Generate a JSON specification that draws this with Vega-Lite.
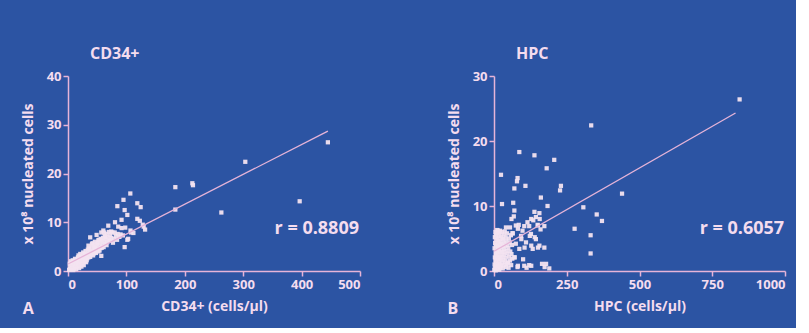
{
  "$schema": "https://vega.github.io/schema/vega-lite/v6.json",
  "background": "#2c54a3",
  "padding": {"left": 21, "top": 46, "right": 10, "bottom": 10},
  "spacing": 134,
  "bounds": "flush",
  "datasets": {
    "cd34": [
      {"x":2,"y":0.2},{"x":3,"y":0.5},{"x":4,"y":0.3},{"x":5,"y":0.8},{"x":6,"y":0.4},{"x":7,"y":1.2},{"x":8,"y":0.6},{"x":9,"y":1.0},{"x":10,"y":1.5},{"x":10,"y":0.5},
      {"x":11,"y":2.0},{"x":12,"y":1.1},{"x":13,"y":0.7},{"x":14,"y":1.8},{"x":15,"y":2.4},{"x":15,"y":1.2},{"x":16,"y":0.9},{"x":17,"y":2.8},{"x":18,"y":1.6},{"x":18,"y":3.2},
      {"x":19,"y":2.1},{"x":20,"y":1.0},{"x":20,"y":2.6},{"x":21,"y":3.5},{"x":22,"y":1.8},{"x":23,"y":2.4},{"x":24,"y":3.0},{"x":25,"y":1.5},{"x":25,"y":2.1},{"x":26,"y":3.8},
      {"x":27,"y":2.7},{"x":28,"y":1.9},{"x":29,"y":3.3},{"x":30,"y":2.4},{"x":30,"y":4.1},{"x":31,"y":3.0},{"x":32,"y":2.2},{"x":33,"y":3.6},{"x":34,"y":4.4},{"x":35,"y":2.8},
      {"x":35,"y":5.2},{"x":36,"y":3.4},{"x":37,"y":4.0},{"x":38,"y":6.9},{"x":38,"y":2.9},{"x":39,"y":4.8},{"x":40,"y":3.5},{"x":41,"y":5.5},{"x":42,"y":4.1},{"x":43,"y":3.2},
      {"x":44,"y":5.0},{"x":45,"y":4.4},{"x":46,"y":6.0},{"x":47,"y":3.9},{"x":48,"y":5.3},{"x":49,"y":7.4},{"x":50,"y":4.6},{"x":51,"y":5.8},{"x":52,"y":4.0},{"x":53,"y":6.4},
      {"x":54,"y":5.1},{"x":55,"y":5.9},{"x":56,"y":4.7},{"x":57,"y":3.1},{"x":57,"y":7.9},{"x":58,"y":6.2},{"x":59,"y":5.4},{"x":60,"y":6.8},{"x":60.5,"y":8.3},{"x":61,"y":4.9},
      {"x":62,"y":6.0},{"x":63,"y":7.2},{"x":64,"y":5.6},{"x":65,"y":6.5},{"x":66,"y":7.6},{"x":67,"y":5.9},{"x":68,"y":6.9},{"x":69,"y":9.3},{"x":70,"y":6.3},{"x":72,"y":7.3},
      {"x":72,"y":6.2},{"x":74,"y":6.8},{"x":76,"y":7.9},{"x":78,"y":6.6},{"x":80,"y":7.9},{"x":80.5,"y":10.0},{"x":82,"y":7.2},{"x":84.5,"y":13.3},{"x":85,"y":7.6},{"x":88,"y":7.0},
      {"x":90,"y":7.5},{"x":91.7,"y":10.5},{"x":91.7,"y":8.8},{"x":95,"y":14.6},{"x":97,"y":12.5},{"x":97,"y":4.9},{"x":98,"y":8.9},{"x":101.6,"y":11.5},{"x":101.6,"y":6.4},{"x":103,"y":6.6},
      {"x":106.7,"y":15.9},{"x":107,"y":8.3},{"x":108,"y":7.9},{"x":112,"y":7.8},{"x":118.7,"y":13.9},{"x":118.7,"y":10.7},{"x":123,"y":10.3},{"x":124.4,"y":13.1},{"x":129.6,"y":9.1},{"x":132,"y":8.5},
      {"x":128,"y":9.5},{"x":183.8,"y":17.2},{"x":183.8,"y":12.6},{"x":212.9,"y":18.0},{"x":214,"y":17.6},{"x":262.6,"y":12.0},{"x":303.6,"y":22.4},{"x":396.7,"y":14.3},{"x":445,"y":26.4},
      {"x":3,"y":1.5},{"x":5,"y":2.0},{"x":6,"y":1.6},{"x":8,"y":2.2},{"x":9,"y":0.2},{"x":11,"y":0.9},{"x":12,"y":2.5},{"x":13,"y":1.5},{"x":14,"y":0.4},{"x":16,"y":2.0},
      {"x":17,"y":1.3},{"x":19,"y":0.6},{"x":21,"y":1.4},{"x":22,"y":2.9},{"x":23,"y":0.9},{"x":24,"y":1.9},{"x":26,"y":2.3},{"x":27,"y":1.2},{"x":28,"y":3.5},{"x":29,"y":2.0},
      {"x":31,"y":1.8},{"x":33,"y":2.6},{"x":34,"y":3.1},{"x":36,"y":4.6},{"x":39,"y":3.4},{"x":42,"y":5.7},{"x":44,"y":3.6},{"x":46,"y":4.8},{"x":48,"y":3.7},{"x":50,"y":5.6},
      {"x":52,"y":6.3},{"x":54,"y":4.2},{"x":56,"y":6.6},{"x":58,"y":4.8},{"x":62,"y":7.9},{"x":64,"y":6.9},{"x":66,"y":5.3},{"x":70,"y":8.0},{"x":74,"y":8.1},{"x":77,"y":5.8},
      {"x":84,"y":6.4},{"x":86,"y":9.1},{"x":94,"y":7.3}
    ],
    "cd34_fit": [{"x":0,"y":1.44},{"x":445,"y":28.7}],
    "cd34_r": [{"x":426,"y":8.6,"label":"r = 0.8809"}],
    "cd34_tag": [{"x":-68,"y":-7.8,"label":"A"}],
    "hpc": [
      {"x":1,"y":0.2},{"x":2,"y":1.0},{"x":2,"y":3.5},{"x":3,"y":5.2},{"x":3,"y":2.1},{"x":4,"y":0.5},{"x":4,"y":4.3},{"x":5,"y":1.6},{"x":5,"y":6.0},{"x":6,"y":2.8},
      {"x":6,"y":0.1},{"x":7,"y":3.9},{"x":7,"y":5.5},{"x":8,"y":1.2},{"x":8,"y":2.4},{"x":9,"y":4.8},{"x":9,"y":0.6},{"x":10,"y":3.1},{"x":10,"y":5.8},{"x":11,"y":1.8},
      {"x":11,"y":6.3},{"x":12,"y":0.3},{"x":12,"y":4.1},{"x":13,"y":2.6},{"x":13,"y":5.0},{"x":14,"y":1.1},{"x":14,"y":3.6},{"x":15,"y":6.0},{"x":15,"y":0.7},{"x":16,"y":2.2},
      {"x":16,"y":4.6},{"x":17,"y":5.4},{"x":17,"y":1.5},{"x":18,"y":3.3},{"x":18,"y":0.2},{"x":19,"y":2.0},{"x":19,"y":5.9},{"x":20,"y":4.0},{"x":20,"y":1.0},{"x":21,"y":2.9},
      {"x":21,"y":6.2},{"x":22,"y":0.5},{"x":22,"y":4.5},{"x":23,"y":3.6},{"x":23,"y":1.8},{"x":24,"y":5.3},{"x":25,"y":2.4},{"x":25,"y":0.8},{"x":26,"y":4.2},{"x":27,"y":3.0},
      {"x":27,"y":6.0},{"x":28,"y":1.3},{"x":28,"y":5.0},{"x":29,"y":2.2},{"x":30,"y":3.8},{"x":30,"y":0.4},{"x":31,"y":4.9},{"x":32,"y":1.7},{"x":32,"y":2.9},{"x":33,"y":5.6},
      {"x":34,"y":3.4},{"x":35,"y":0.9},{"x":35,"y":4.3},{"x":36,"y":2.5},{"x":37,"y":6.1},{"x":38,"y":1.4},{"x":38,"y":3.9},{"x":40,"y":5.2},{"x":40,"y":2.0},{"x":41,"y":0.6},
      {"x":42,"y":4.6},{"x":43,"y":3.1},{"x":44,"y":1.1},{"x":45,"y":5.8},{"x":46,"y":2.7},{"x":47,"y":4.0},{"x":48,"y":1.3},{"x":49,"y":3.5},{"x":50,"y":0.5},{"x":51,"y":5.0},
      {"x":52,"y":2.2},{"x":54,"y":4.4},{"x":55,"y":1.6},{"x":56,"y":3.0},{"x":58,"y":5.5},{"x":59,"y":0.9},{"x":60,"y":2.6},{"x":62,"y":4.0},{"x":63,"y":1.9},{"x":13,"y":6.2},
      {"x":41,"y":6.7},{"x":55,"y":6.7},{"x":64,"y":5.8},
      {"x":87,"y":18.3},{"x":139,"y":17.8},{"x":207,"y":17.1},{"x":181,"y":15.8},{"x":24,"y":14.8},{"x":81,"y":14.3},{"x":79,"y":13.8},{"x":70,"y":12.7},{"x":108,"y":13.1},{"x":227,"y":12.4},
      {"x":230,"y":13.1},{"x":161,"y":11.3},{"x":440,"y":11.9},{"x":27.5,"y":10.3},{"x":66,"y":10.5},{"x":184,"y":10.0},{"x":307,"y":9.8},{"x":70,"y":9.3},{"x":68,"y":8.4},{"x":139,"y":9.1},
      {"x":156,"y":8.9},{"x":144,"y":8.3},{"x":157,"y":8.0},{"x":128,"y":8.0},{"x":151,"y":7.0},{"x":85,"y":7.1},{"x":104,"y":6.9},{"x":121,"y":6.9},{"x":150,"y":7.1},{"x":173,"y":6.9},
      {"x":82,"y":6.5},{"x":64,"y":5.8},{"x":93,"y":5.4},{"x":127,"y":5.7},{"x":123,"y":5.4},{"x":140,"y":5.2},{"x":144,"y":4.9},{"x":94,"y":4.9},{"x":110,"y":4.4},{"x":156,"y":3.9},
      {"x":128,"y":3.9},{"x":173,"y":3.6},{"x":151,"y":3.6},{"x":105,"y":3.6},{"x":133,"y":3.4},{"x":87,"y":3.4},{"x":70,"y":2.1},{"x":71,"y":2.1},{"x":48,"y":1.3},{"x":104,"y":0.8},
      {"x":121,"y":0.9},{"x":179,"y":1.1},{"x":190,"y":0.4},{"x":81,"y":0.6},{"x":128,"y":0.8},{"x":82,"y":0.8},{"x":353,"y":8.7},{"x":371,"y":7.7},{"x":277,"y":6.5},{"x":332,"y":5.5},
      {"x":332,"y":2.7},{"x":334,"y":22.4},{"x":844,"y":26.4},{"x":174,"y":0.6},{"x":165,"y":1.1},{"x":112,"y":0.5},{"x":100,"y":1.8},{"x":75,"y":4.2},{"x":98,"y":6.2},{"x":115,"y":7.5},
      {"x":135,"y":7.8},{"x":160,"y":6.4},{"x":60,"y":8.0},{"x":75,"y":7.0}
    ],
    "hpc_fit": [{"x":0,"y":3.03},{"x":830,"y":24.3}],
    "hpc_r": [{"x":852,"y":6.5,"label":"r = 0.6057"}],
    "hpc_tag": [{"x":-141,"y":-5.9,"label":"B"}]
  },
  "config": {
    "view": {"stroke": null},
    "axis": {
      "domainColor": "#e6b4d8", "tickColor": "#e6b4d8", "domainWidth": 1.5, "tickWidth": 1.5, "tickSize": 5,
      "labelColor": "#f4dcef", "titleColor": "#f4dcef", "labelFont": "Open Sans", "titleFont": "Open Sans",
      "labelFontWeight": "bold", "titleFontWeight": "bold", "labelFontSize": 13, "titleFontSize": 14, "grid": false,
      "labelPadding": 2
    },
    "axisX": {"titlePadding": 8},
    "axisY": {"titleX": -40, "titleBaseline": "middle"},
    "title": {"color": "#f4dcef", "font": "Open Sans", "fontSize": 16, "fontWeight": "bold", "anchor": "start", "frame": "group", "dx": 22, "offset": 8},
    "text": {"font": "Open Sans", "fontWeight": "bold", "color": "#f4dcef"}
  },
  "hconcat": [
    {
      "width": 292, "height": 195,
      "title": "CD34+",
      "layer": [
        {
          "data": {"name": "cd34"},
          "mark": {"type": "square", "size": 18, "color": "#f3e3f0", "opacity": 0.95},
          "encoding": {
            "x": {"field": "x", "type": "quantitative", "scale": {"domain": [0, 500]}, "axis": {"title": "CD34+ (cells/µl)", "values": [0, 100, 200, 300, 400, 500], "format": "d"}},
            "y": {"field": "y", "type": "quantitative", "scale": {"domain": [0, 40]}, "axis": {"title": "x 10⁸ nucleated cells", "values": [0, 10, 20, 30, 40]}}
          }
        },
        {
          "data": {"name": "cd34_fit"},
          "mark": {"type": "line", "color": "#e6b4d8", "strokeWidth": 1.3},
          "encoding": {
            "x": {"field": "x", "type": "quantitative", "scale": {"domain": [0, 500]}},
            "y": {"field": "y", "type": "quantitative", "scale": {"domain": [0, 40]}}
          }
        },
        {
          "data": {"name": "cd34_r"},
          "mark": {"type": "text", "fontSize": 18, "align": "center", "baseline": "middle"},
          "encoding": {
            "x": {"field": "x", "type": "quantitative", "scale": {"domain": [0, 500]}},
            "y": {"field": "y", "type": "quantitative", "scale": {"domain": [0, 40]}},
            "text": {"field": "label"}
          }
        },
        {
          "data": {"name": "cd34_tag"},
          "mark": {"type": "text", "fontSize": 16, "align": "center", "baseline": "middle"},
          "encoding": {
            "x": {"field": "x", "type": "quantitative", "scale": {"domain": [0, 500]}},
            "y": {"field": "y", "type": "quantitative", "scale": {"domain": [0, 40]}},
            "text": {"field": "label"}
          }
        }
      ]
    },
    {
      "width": 291, "height": 195,
      "title": "HPC",
      "layer": [
        {
          "data": {"name": "hpc"},
          "mark": {"type": "square", "size": 18, "color": "#f3e3f0", "opacity": 0.95},
          "encoding": {
            "x": {"field": "x", "type": "quantitative", "scale": {"domain": [0, 1000]}, "axis": {"title": "HPC (cells/µl)", "values": [0, 250, 500, 750, 1000], "format": "d"}},
            "y": {"field": "y", "type": "quantitative", "scale": {"domain": [0, 30]}, "axis": {"title": "x 10⁸ nucleated cells", "values": [0, 10, 20, 30]}}
          }
        },
        {
          "data": {"name": "hpc_fit"},
          "mark": {"type": "line", "color": "#e6b4d8", "strokeWidth": 1.3},
          "encoding": {
            "x": {"field": "x", "type": "quantitative", "scale": {"domain": [0, 1000]}},
            "y": {"field": "y", "type": "quantitative", "scale": {"domain": [0, 30]}}
          }
        },
        {
          "data": {"name": "hpc_r"},
          "mark": {"type": "text", "fontSize": 18, "align": "center", "baseline": "middle"},
          "encoding": {
            "x": {"field": "x", "type": "quantitative", "scale": {"domain": [0, 1000]}},
            "y": {"field": "y", "type": "quantitative", "scale": {"domain": [0, 30]}},
            "text": {"field": "label"}
          }
        },
        {
          "data": {"name": "hpc_tag"},
          "mark": {"type": "text", "fontSize": 16, "align": "center", "baseline": "middle"},
          "encoding": {
            "x": {"field": "x", "type": "quantitative", "scale": {"domain": [0, 1000]}},
            "y": {"field": "y", "type": "quantitative", "scale": {"domain": [0, 30]}},
            "text": {"field": "label"}
          }
        }
      ]
    }
  ]
}
